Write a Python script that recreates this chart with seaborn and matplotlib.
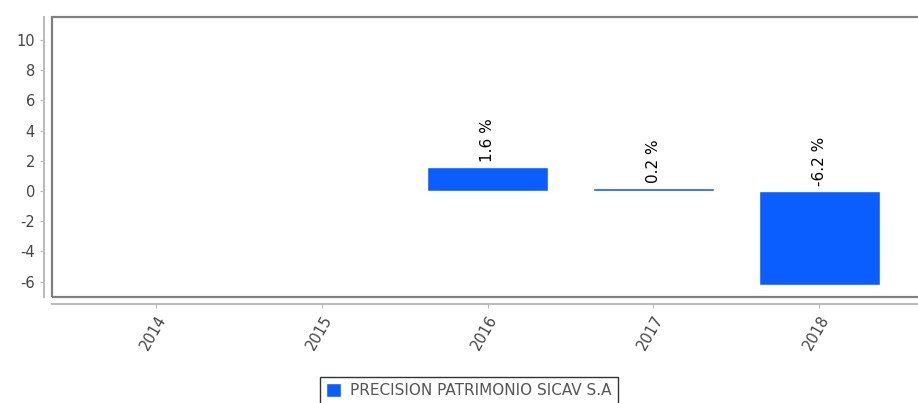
import numpy as np
import pandas as pd
import matplotlib
matplotlib.use("Agg")
import matplotlib.pyplot as plt
import seaborn as sns
from matplotlib.patches import Rectangle

# data
years = ["2014", "2015", "2016", "2017", "2018"]
returns = [np.nan, np.nan, 1.6, 0.2, -6.2]
fund_name = "PRECISION PATRIMONIO SICAV S.A"
y_ticks = [-6, -4, -2, 0, 2, 4, 6, 8, 10]

bar_color = "#0a5eff"
grey = "#555555"

sns.set_style("white")
plt.rcParams['font.family'] = ['DejaVu Sans']
plt.rcParams['axes.unicode_minus'] = False

df = pd.DataFrame({"year": years, "ret": returns, "fund": fund_name})

fig = plt.figure(figsize=(9.18, 4.03), dpi=100)
ax = fig.add_axes([52 / 918, 106 / 403, 871 / 918, 280 / 403])

sns.barplot(data=df, x="year", y="ret", hue="fund", palette=[bar_color],
            width=0.73, ax=ax, legend=True, saturation=1)

ax.set_xlim(-0.627, 4.627)
ax.set_ylim(-7.02, 11.52)
ax.set_yticks(y_ticks)
ax.set_xlabel("")
ax.set_ylabel("")

# value labels
for i, v in enumerate(returns):
    if np.isnan(v):
        continue
    ax.text(i, max(v, 0) + 0.3, f"{v:.1f} %", rotation=90, ha="center",
            va="bottom", fontsize=11, color="black")

# offset axis lines plus full frame
for s in ["top", "right"]:
    ax.spines[s].set_visible(False)
ax.spines["left"].set_position(("outward", 5.8))
ax.spines["bottom"].set_position(("outward", 5))
for s in ["left", "bottom"]:
    ax.spines[s].set_color("#bbbbbb")
    ax.spines[s].set_linewidth(1.5)
ax.add_patch(Rectangle((0, 0), 1, 1, transform=ax.transAxes, fill=False,
                       edgecolor="#808080", lw=1.6, clip_on=False))

ax.tick_params(axis="both", length=3, color="#bbbbbb", labelcolor="#444444",
               labelsize=10.5, left=True, bottom=True)
plt.setp(ax.get_xticklabels(), rotation=60, ha="right", rotation_mode="anchor")

ax.legend(loc="upper center", bbox_to_anchor=(469 / 918, 26 / 403),
          bbox_transform=fig.transFigure, frameon=True, fancybox=False,
          edgecolor="black", fontsize=11, handlelength=1.0, handleheight=1.0,
          labelcolor=grey, borderpad=0.4, borderaxespad=0, handletextpad=0.6)

fig.savefig("out.png", dpi=100)
